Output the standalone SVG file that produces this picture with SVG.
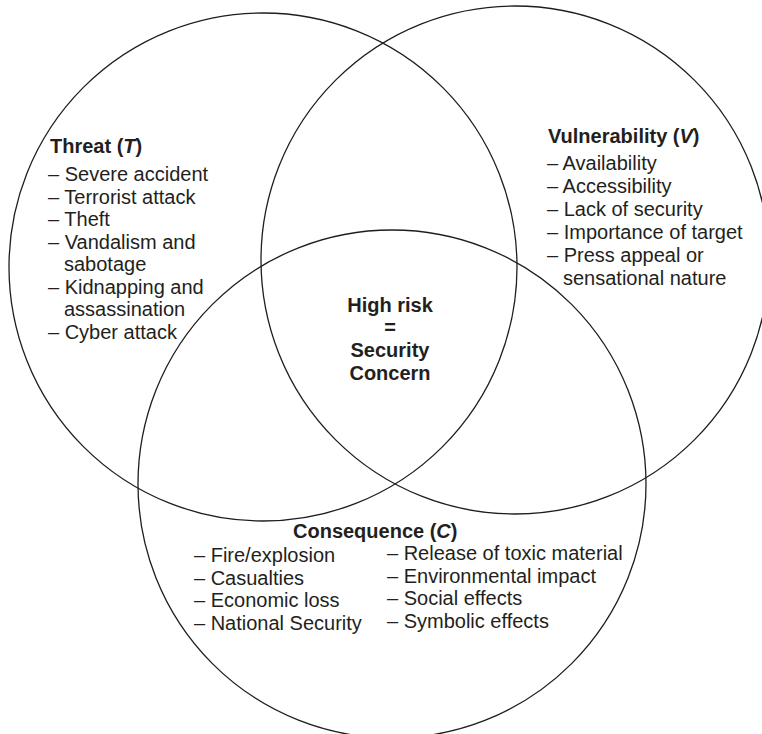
<svg xmlns="http://www.w3.org/2000/svg" width="762" height="734" viewBox="0 0 762 734">
  <style>
    .ring { fill: none; stroke: #1e1e1e; stroke-width: 1.3; }
    text { font-family: "Liberation Sans", Arial, Helvetica, sans-serif; font-size: 20px; fill: #231f20; }
    .head { font-weight: bold; }
    .var { font-style: italic; }
  </style>
  <rect width="762" height="734" fill="#ffffff"/>

  <!-- Threat set -->
  <g id="threat">
    <circle class="ring" cx="263" cy="267" r="254"/>
    <text class="head" x="50" y="153">Threat (<tspan class="var">T</tspan>)</text>
    <text x="48" y="181">– Severe accident</text>
    <text x="48" y="203.5">– Terrorist attack</text>
    <text x="48" y="226">– Theft</text>
    <text x="48" y="248.5">– Vandalism and</text>
    <text x="64" y="271">sabotage</text>
    <text x="48" y="293.5">– Kidnapping and</text>
    <text x="64" y="316">assassination</text>
    <text x="48" y="338.5">– Cyber attack</text>
  </g>

  <!-- Vulnerability set -->
  <g id="vulnerability">
    <circle class="ring" cx="515" cy="260" r="254"/>
    <text class="head" x="548" y="143">Vulnerability (<tspan class="var">V</tspan>)</text>
    <text x="547" y="170">– Availability</text>
    <text x="547" y="193">– Accessibility</text>
    <text x="547" y="216">– Lack of security</text>
    <text x="547" y="239">– Importance of target</text>
    <text x="547" y="262">– Press appeal or</text>
    <text x="563" y="285">sensational nature</text>
  </g>

  <!-- Consequence set -->
  <g id="consequence">
    <circle class="ring" cx="392" cy="484" r="254"/>
    <text class="head" x="293" y="537.5">Consequence (<tspan class="var">C</tspan>)</text>
    <text x="194" y="562">– Fire/explosion</text>
    <text x="194" y="584.5">– Casualties</text>
    <text x="194" y="607">– Economic loss</text>
    <text x="194" y="629.5">– National Security</text>
    <text x="387" y="560">– Release of toxic material</text>
    <text x="387" y="582.5">– Environmental impact</text>
    <text x="387" y="605">– Social effects</text>
    <text x="387" y="627.5">– Symbolic effects</text>
  </g>

  <!-- Triple overlap label -->
  <g id="high-risk" text-anchor="middle">
    <text class="head" x="390" y="311.5">High risk</text>
    <text class="head" x="390" y="334">=</text>
    <text class="head" x="390" y="357">Security</text>
    <text class="head" x="390" y="380">Concern</text>
  </g>
</svg>
